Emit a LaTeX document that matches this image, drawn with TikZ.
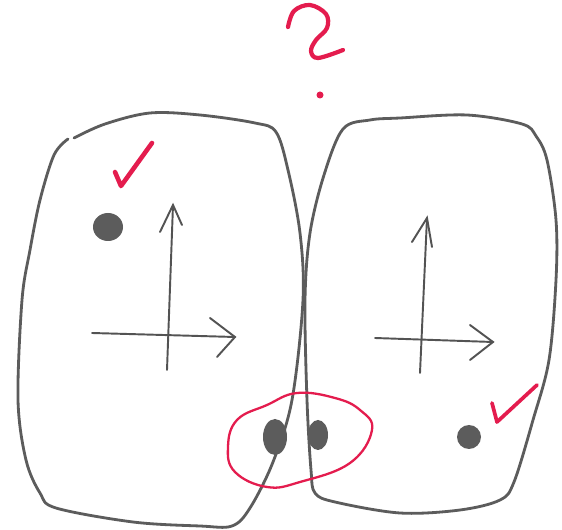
\documentclass[tikz,border=0pt]{standalone}
\usepackage{tikz}
\usetikzlibrary{calc}
\definecolor{pencil}{RGB}{92,92,92}
\definecolor{redpen}{RGB}{228,28,78}

\begin{document}
\begin{tikzpicture}[x=0.02cm, y=-0.02cm,
  lead/.style={pencil, line width=1.6pt, line cap=round, line join=round},
  thin lead/.style={pencil!90!black, line width=1.1pt, line cap=round},
  ink/.style={redpen, line width=1.9pt, line cap=round, line join=round}]
% canvas
\useasboundingbox (0,0) rectangle (562,530);
\fill[white] (0,0) rectangle (562,530);

% ---- left box ----
\draw[lead] plot[smooth, tension=0.55] coordinates {
  (68,139) (54,155) (40,200) (30,250) (22,300) (18,400) (26,460)
  (40,493) (56,508) (133,522) (200,526) (232,526) (250,508)
  (273,462) (292,400) (303,300) (300,233) (288,170) (276,132)
  (255,123) (200,115) (150,113) (105,124) (74,138)};

% ---- right box ----
\draw[lead] plot[smooth cycle, tension=0.55] coordinates {
  (343,129) (324,175) (310,233) (305,300) (307,400) (311,470)
  (315,493) (335,502) (400,513) (460,510) (500,500) (514,482)
  (533,420) (549,360) (556,280) (556,220) (547,160) (536,136)
  (522,124) (467,115) (400,118) (370,120)};

% ---- left axes ----
\draw[thin lead] (167,370) -- (173,205);
\draw[thin lead] (160,232) -- (173,205) -- (182,225);
\draw[thin lead] (92,333) -- (235,337);
\draw[thin lead] (210,318) -- (235,337) -- (217,357);

% ---- right axes ----
\draw[thin lead] (420,373) -- (427,218);
\draw[thin lead] (412,242) -- (427,218) -- (432,247);
\draw[thin lead] (375,338) -- (493,342);
\draw[thin lead] (470,325) -- (493,342) -- (470,360);

% ---- dots ----
\fill[pencil] (108,227) ellipse [x radius=15, y radius=14];
\fill[pencil] (469,437) circle [radius=12];
\fill[pencil] (275,437) ellipse [x radius=12, y radius=18];
\fill[pencil] (318,435) ellipse [x radius=10, y radius=15];

% ---- red marks ----
\draw[ink, line width=2.6pt] (115,172) -- (121,186) -- (152,143);
\draw[ink, line width=2.1pt] (492,403) -- (497,422) -- (537,385);
\draw[ink, line width=1.3pt] plot[smooth cycle, tension=0.7] coordinates {
  (228,447) (237,420) (267,405) (297,393) (335,398) (360,410)
  (372,430) (350,463) (300,482) (267,487) (235,472)};

% question mark
\draw[ink, line width=2.4pt] plot[smooth, tension=0.6] coordinates {
  (288,27) (294,11) (310,5) (326,14) (327,28) (316,40) (311,51)
  (318,58) (343,50)};
\fill[redpen] (320,95) circle [radius=3.5];
\end{tikzpicture}
\end{document}
